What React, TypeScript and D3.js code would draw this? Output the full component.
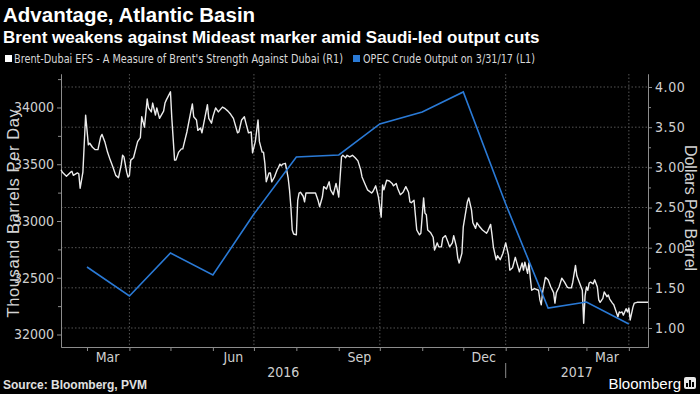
import React, { useRef, useEffect } from 'react';
import * as d3 from 'd3';

// OPEC crude output, thousand barrels per day (left axis)
const opecMonths = [
  '2016-03-01', '2016-04-01', '2016-05-01', '2016-06-01', '2016-07-01', '2016-08-01', '2016-09-01',
  '2016-10-01', '2016-11-01', '2016-12-01', '2017-01-01', '2017-02-01', '2017-03-01', '2017-04-01',
];
const opecOutput = [32595, 32339, 32718, 32524, 33061, 33564, 33582, 33855, 33960, 34137, 33150, 32233, 32286, 32093];

// Brent-Dubai EFS, dollars per barrel (right axis)
const efsSeries: [string, number][] = [
  ['2016-02-11', 2.97], ['2016-02-12', 2.94], ['2016-02-15', 2.89], ['2016-02-18', 2.94], ['2016-02-19', 2.95],
  ['2016-02-20', 2.9], ['2016-02-23', 2.93], ['2016-02-24', 2.92], ['2016-02-25', 2.74], ['2016-02-27', 2.94],
  ['2016-02-29', 3.65], ['2016-03-02', 3.28], ['2016-03-03', 3.3], ['2016-03-05', 3.25], ['2016-03-07', 3.22],
  ['2016-03-09', 3.22], ['2016-03-11', 3.38], ['2016-03-12', 3.41], ['2016-03-14', 3.32], ['2016-03-16', 3.19],
  ['2016-03-18', 3.09], ['2016-03-20', 3.0], ['2016-03-22', 2.9], ['2016-03-24', 2.87], ['2016-03-26', 3.03],
  ['2016-03-27', 3.15], ['2016-03-28', 3.13], ['2016-03-30', 2.94], ['2016-03-31', 2.88], ['2016-04-01', 2.9],
  ['2016-04-02', 3.09], ['2016-04-04', 3.12], ['2016-04-07', 3.32], ['2016-04-09', 3.37], ['2016-04-10', 3.63],
  ['2016-04-12', 3.5], ['2016-04-14', 3.85], ['2016-04-15', 3.74], ['2016-04-17', 3.69], ['2016-04-18', 3.8],
  ['2016-04-20', 3.65], ['2016-04-21', 3.74], ['2016-04-23', 3.61], ['2016-04-26', 3.7], ['2016-04-27', 3.8],
  ['2016-04-28', 3.84], ['2016-05-01', 3.94], ['2016-05-02', 3.61], ['2016-05-04', 3.09], ['2016-05-05', 3.09],
  ['2016-05-07', 3.19], ['2016-05-09', 3.23], ['2016-05-10', 3.23], ['2016-05-13', 3.44], ['2016-05-17', 3.79],
  ['2016-05-18', 3.63], ['2016-05-20', 3.59], ['2016-05-21', 3.46], ['2016-05-23', 3.49], ['2016-05-24', 3.43],
  ['2016-05-28', 3.78], ['2016-05-29', 3.61], ['2016-05-31', 3.55], ['2016-06-01', 3.63], ['2016-06-03', 3.74],
  ['2016-06-05', 3.69], ['2016-06-08', 3.75], ['2016-06-10', 3.73], ['2016-06-12', 3.7], ['2016-06-14', 3.66],
  ['2016-06-16', 3.61], ['2016-06-19', 3.43], ['2016-06-20', 3.44], ['2016-06-22', 3.59], ['2016-06-24', 3.63],
  ['2016-06-25', 3.56], ['2016-06-27', 3.43], ['2016-06-29', 3.44], ['2016-06-30', 3.18], ['2016-07-02', 3.32],
  ['2016-07-04', 3.59], ['2016-07-05', 3.32], ['2016-07-07', 3.19], ['2016-07-08', 3.19], ['2016-07-09', 3.05],
  ['2016-07-10', 2.82], ['2016-07-12', 2.93], ['2016-07-13', 2.93], ['2016-07-14', 2.82], ['2016-07-16', 2.88],
  ['2016-07-18', 2.97], ['2016-07-19', 3.0], ['2016-07-20', 3.04], ['2016-07-21', 3.02], ['2016-07-22', 3.04],
  ['2016-07-24', 3.05], ['2016-07-26', 2.87], ['2016-07-27', 2.72], ['2016-07-28', 2.51], ['2016-07-29', 2.22],
  ['2016-07-30', 2.17], ['2016-08-01', 2.16], ['2016-08-02', 2.59], ['2016-08-03', 2.68], ['2016-08-04', 2.69],
  ['2016-08-06', 2.64], ['2016-08-07', 2.57], ['2016-08-08', 2.68], ['2016-08-10', 2.68], ['2016-08-12', 2.68],
  ['2016-08-15', 2.68], ['2016-08-17', 2.58], ['2016-08-18', 2.51], ['2016-08-20', 2.63], ['2016-08-21', 2.76],
  ['2016-08-23', 2.73], ['2016-08-25', 2.82], ['2016-08-26', 2.72], ['2016-08-28', 2.66], ['2016-08-30', 2.8],
  ['2016-08-31', 2.72], ['2016-09-01', 2.63], ['2016-09-03', 3.13], ['2016-09-04', 3.15], ['2016-09-06', 3.12],
  ['2016-09-07', 3.15], ['2016-09-09', 3.13], ['2016-09-11', 3.15], ['2016-09-13', 3.12], ['2016-09-15', 3.08],
  ['2016-09-17', 2.97], ['2016-09-18', 2.88], ['2016-09-20', 2.8], ['2016-09-22', 2.72], ['2016-09-25', 2.68],
  ['2016-09-26', 2.7], ['2016-09-28', 2.77], ['2016-09-30', 2.63], ['2016-10-02', 2.38], ['2016-10-03', 2.78],
  ['2016-10-04', 2.72], ['2016-10-06', 2.84], ['2016-10-08', 2.83], ['2016-10-10', 2.8], ['2016-10-11', 2.77],
  ['2016-10-13', 2.8], ['2016-10-14', 2.74], ['2016-10-16', 2.66], ['2016-10-18', 2.69], ['2016-10-20', 2.76],
  ['2016-10-22', 2.69], ['2016-10-23', 2.57], ['2016-10-24', 2.56], ['2016-10-26', 2.59], ['2016-10-28', 2.22],
  ['2016-10-30', 2.16], ['2016-10-31', 2.18], ['2016-11-02', 2.62], ['2016-11-03', 2.43], ['2016-11-04', 2.41],
  ['2016-11-05', 2.22], ['2016-11-07', 2.19], ['2016-11-09', 2.13], ['2016-11-10', 1.97], ['2016-11-12', 2.06],
  ['2016-11-13', 2.01], ['2016-11-15', 2.01], ['2016-11-16', 2.12], ['2016-11-18', 2.15], ['2016-11-20', 2.06],
  ['2016-11-21', 2.01], ['2016-11-23', 2.06], ['2016-11-24', 2.15], ['2016-11-26', 2.01], ['2016-11-27', 1.87],
  ['2016-11-28', 1.81], ['2016-11-30', 1.93], ['2016-12-01', 2.26], ['2016-12-04', 2.57], ['2016-12-05', 2.62],
  ['2016-12-07', 2.47], ['2016-12-08', 2.31], ['2016-12-10', 2.24], ['2016-12-11', 2.31], ['2016-12-13', 2.26],
  ['2016-12-15', 2.22], ['2016-12-18', 2.18], ['2016-12-19', 2.21], ['2016-12-21', 2.29], ['2016-12-22', 2.16],
  ['2016-12-23', 2.01], ['2016-12-25', 1.85], ['2016-12-26', 1.9], ['2016-12-28', 1.85], ['2016-12-30', 1.93],
  ['2017-01-01', 2.06], ['2017-01-03', 1.91], ['2017-01-04', 1.72], ['2017-01-06', 1.75], ['2017-01-08', 1.88],
  ['2017-01-09', 1.82], ['2017-01-11', 1.7], ['2017-01-13', 1.81], ['2017-01-14', 1.72], ['2017-01-15', 1.82],
  ['2017-01-17', 1.68], ['2017-01-18', 1.81], ['2017-01-19', 1.62], ['2017-01-20', 1.47], ['2017-01-22', 1.49],
  ['2017-01-25', 1.47], ['2017-01-26', 1.35], ['2017-01-27', 1.29], ['2017-01-28', 1.45], ['2017-01-30', 1.63],
  ['2017-02-01', 1.6], ['2017-02-03', 1.51], ['2017-02-05', 1.44], ['2017-02-06', 1.31], ['2017-02-07', 1.44],
  ['2017-02-09', 1.51], ['2017-02-11', 1.62], ['2017-02-13', 1.57], ['2017-02-15', 1.51], ['2017-02-16', 1.5],
  ['2017-02-18', 1.5], ['2017-02-19', 1.57], ['2017-02-21', 1.78], ['2017-02-22', 1.65], ['2017-02-24', 1.56],
  ['2017-02-26', 1.47], ['2017-02-27', 1.06], ['2017-02-28', 1.4], ['2017-03-01', 1.51], ['2017-03-02', 1.47],
  ['2017-03-03', 1.56], ['2017-03-04', 1.57], ['2017-03-06', 1.55], ['2017-03-07', 1.6], ['2017-03-09', 1.51],
  ['2017-03-10', 1.35], ['2017-03-11', 1.32], ['2017-03-13', 1.37], ['2017-03-14', 1.45], ['2017-03-16', 1.39],
  ['2017-03-17', 1.41], ['2017-03-18', 1.36], ['2017-03-20', 1.31], ['2017-03-21', 1.29], ['2017-03-22', 1.24],
  ['2017-03-24', 1.14], ['2017-03-25', 1.2], ['2017-03-26', 1.19], ['2017-03-27', 1.2], ['2017-03-28', 1.16],
  ['2017-03-30', 1.24], ['2017-03-31', 1.2], ['2017-04-01', 1.25], ['2017-04-02', 1.1], ['2017-04-04', 1.26],
  ['2017-04-05', 1.31], ['2017-04-07', 1.32], ['2017-04-15', 1.32],
];

const leftTicks = [32000, 32500, 33000, 33500, 34000];
const leftMinor = [32250, 32750, 33250, 33750, 34250];
const rightTicks = [1, 1.5, 2, 2.5, 3, 3.5, 4];
const rightMinor = [1.25, 1.75, 2.25, 2.75, 3.25, 3.75];
const quarterStarts = ['2016-04-01', '2016-07-01', '2016-10-01', '2017-01-01', '2017-04-01'];
const monthLabels = ['Mar', 'Jun', 'Sep', 'Dec', 'Mar'];
const monthLabelDates = ['2016-03-16', '2016-06-16', '2016-09-16', '2016-12-16', '2017-03-16'];
const yearLabels = ['2016', '2017'];

const W = 700;
const H = 394;
const margin = { top: 74, right: 52, bottom: 47, left: 61 };
const narrow = '"Liberation Sans Narrow", "DejaVu Sans Condensed", Arial, sans-serif';
const sans = '"Liberation Sans", Arial, sans-serif';

function App() {
  const svgRef = useRef(null);

  useEffect(() => {
    const svg = d3.select(svgRef.current);
    svg.selectAll('*').remove();
    const parse = d3.timeParse('%Y-%m-%d');
    const x0 = margin.left;
    const x1 = W - margin.right;
    const yBot = H - margin.bottom;
    const yTop = margin.top;

    svg.append('rect').attr('width', W).attr('height', H).attr('fill', '#000');

    const x = d3.scaleTime()
      .domain([parse('2016-02-11'), parse('2017-04-15')])
      .range([x0, x1]);
    const yL = d3.scaleLinear().domain([31890, 34295]).range([yBot, yTop]);
    const yR = d3.scaleLinear().domain([0.7635, 4.162]).range([yBot, yTop]);

    // gridlines
    svg.append('g')
      .selectAll('line')
      .data(rightTicks)
      .join('line')
      .attr('x1', x0).attr('x2', x1)
      .attr('y1', d => yR(d)).attr('y2', d => yR(d))
      .attr('stroke', '#555').attr('stroke-dasharray', '1.5,2');
    svg.append('g')
      .selectAll('line')
      .data(quarterStarts.map(parse))
      .join('line')
      .attr('x1', d => x(d)).attr('x2', d => x(d))
      .attr('y1', yTop).attr('y2', yBot)
      .attr('stroke', '#555').attr('stroke-dasharray', '1.5,2');

    const styleAxis = g => {
      g.select('.domain').attr('stroke', '#8c8c8c');
      g.selectAll('.tick line').attr('stroke', '#8c8c8c');
      g.selectAll('.tick text').attr('fill', '#cfcfcf').attr('font-family', narrow).attr('font-size', 14);
    };

    svg.append('g')
      .attr('transform', `translate(${x0},0)`)
      .call(d3.axisLeft(yL).tickValues(leftTicks).tickSize(4).tickSizeOuter(0).tickPadding(3).tickFormat(d3.format('d')))
      .call(styleAxis);
    svg.append('g')
      .attr('transform', `translate(${x0},0)`)
      .call(d3.axisLeft(yL).tickValues(leftMinor).tickSize(3).tickSizeOuter(0).tickFormat(() => ''))
      .call(styleAxis);

    svg.append('g')
      .attr('transform', `translate(${x1},0)`)
      .call(d3.axisRight(yR).tickValues(rightTicks).tickSize(4).tickSizeOuter(0).tickPadding(3).tickFormat(d3.format('.2f')))
      .call(styleAxis)
      .call(g => g.selectAll('.tick text').attr('letter-spacing', 0.6));
    svg.append('g')
      .attr('transform', `translate(${x1},0)`)
      .call(d3.axisRight(yR).tickValues(rightMinor).tickSize(3).tickSizeOuter(0).tickFormat(() => ''))
      .call(styleAxis);

    svg.append('g')
      .attr('transform', `translate(0,${yBot})`)
      .call(d3.axisBottom(x).ticks(d3.timeMonth.every(1)).tickSize(4).tickSizeOuter(0).tickFormat(() => ''))
      .call(styleAxis);

    svg.append('g')
      .selectAll('text')
      .data(monthLabels)
      .join('text')
      .attr('x', (d, i) => x(parse(monthLabelDates[i])))
      .attr('y', yBot + 15)
      .attr('text-anchor', 'middle')
      .attr('fill', '#cfcfcf')
      .attr('font-family', narrow)
      .attr('font-size', 14)
      .text(d => d);

    const yearSplit = x(parse('2017-01-01'));
    const yearCenters = [(x0 + yearSplit) / 2, (yearSplit + x1) / 2];
    svg.append('g')
      .selectAll('text')
      .data(yearLabels)
      .join('text')
      .attr('x', (d, i) => yearCenters[i])
      .attr('y', yBot + 30)
      .attr('text-anchor', 'middle')
      .attr('fill', '#cfcfcf')
      .attr('font-family', narrow)
      .attr('font-size', 14)
      .text(d => d);
    svg.append('line')
      .attr('x1', yearSplit).attr('x2', yearSplit)
      .attr('y1', yBot + 16).attr('y2', yBot + 31)
      .attr('stroke', '#8c8c8c');

    // series
    const efsLine = d3.line<[string, number]>()
      .x(d => x(parse(d[0])))
      .y(d => yR(d[1]));
    svg.append('path')
      .datum(efsSeries)
      .attr('d', efsLine)
      .attr('fill', 'none')
      .attr('stroke', '#ececec')
      .attr('stroke-width', 1.4)
      .attr('stroke-linejoin', 'round');

    const opecLine = d3.line<number>()
      .x((d, i) => x(parse(opecMonths[i])))
      .y(d => yL(d));
    svg.append('path')
      .datum(opecOutput)
      .attr('d', opecLine)
      .attr('fill', 'none')
      .attr('stroke', '#2a7ad6')
      .attr('stroke-width', 1.6);

    // axis titles
    svg.append('text')
      .attr('transform', `translate(19,213) rotate(-90)`)
      .attr('text-anchor', 'middle')
      .attr('fill', '#d4d4d4')
      .attr('font-family', sans)
      .attr('font-size', 16.5)
      .attr('letter-spacing', 0.6)
      .text('Thousand Barrels Per Day');
    svg.append('text')
      .attr('transform', `translate(685,208) rotate(90)`)
      .attr('text-anchor', 'middle')
      .attr('fill', '#d4d4d4')
      .attr('font-family', sans)
      .attr('font-size', 16)
      .text('Dollars Per Barrel');

    // titles
    svg.append('text')
      .attr('x', 3).attr('y', 22)
      .attr('fill', '#fff')
      .attr('font-family', sans)
      .attr('font-weight', 'bold')
      .attr('font-size', 20.5)
      .text('Advantage, Atlantic Basin');
    svg.append('text')
      .attr('x', 3).attr('y', 43)
      .attr('fill', '#fff')
      .attr('font-family', sans)
      .attr('font-weight', 'bold')
      .attr('font-size', 17)
      .text('Brent weakens against Mideast marker amid Saudi-led output cuts');

    // legend
    const legend = svg.append('g').attr('font-family', narrow).attr('font-size', 12).attr('fill', '#d8d8d8');
    legend.append('rect').attr('x', 5).attr('y', 55).attr('width', 7).attr('height', 7).attr('fill', '#fff');
    legend.append('text').attr('x', 14).attr('y', 63)
      .attr('textLength', 329).attr('lengthAdjust', 'spacingAndGlyphs')
      .text("Brent-Dubai EFS - A Measure of Brent's Strength Against Dubai (R1)");
    legend.append('rect').attr('x', 353).attr('y', 55).attr('width', 7).attr('height', 7).attr('fill', '#2a7ad6');
    legend.append('text').attr('x', 363).attr('y', 63)
      .attr('textLength', 172).attr('lengthAdjust', 'spacingAndGlyphs')
      .text('OPEC Crude Output on 3/31/17 (L1)');

    // footer
    svg.append('text')
      .attr('x', 3).attr('y', 389)
      .attr('fill', '#e0e0e0')
      .attr('font-family', sans)
      .attr('font-weight', 'bold')
      .attr('font-size', 12)
      .text('Source: Bloomberg, PVM');
    svg.append('text')
      .attr('x', 681).attr('y', 389)
      .attr('text-anchor', 'end')
      .attr('fill', '#fff')
      .attr('font-family', sans)
      .attr('font-size', 15)
      .text('Bloomberg');
    const logo = svg.append('g').attr('transform', 'translate(684,377)');
    logo.append('rect').attr('width', 12).attr('height', 12).attr('rx', 2).attr('fill', '#e8e8e8');
    [[2, 6, 2], [5, 3, 2], [8, 5, 2]].forEach(([bx, by, bw]) => {
      logo.append('rect').attr('x', bx).attr('y', by).attr('width', bw).attr('height', 10 - by).attr('fill', '#000');
    });
  }, []);

  return (
    <svg ref={svgRef} width={W} height={H} style={{ position: 'absolute', left: 0, top: 0, display: 'block' }} />
  );
}

export default App;
